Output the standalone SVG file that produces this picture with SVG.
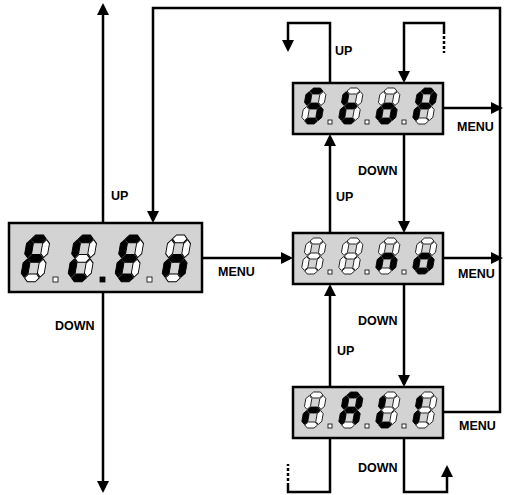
<svg xmlns="http://www.w3.org/2000/svg" xmlns:xlink="http://www.w3.org/1999/xlink" width="509" height="495" viewBox="0 0 509 495">
<style>
.box{fill:#d3d3d3;stroke:#000;stroke-width:2.5}
.on{fill:#000;stroke:#000;stroke-width:0.8}
.off{fill:#fff;stroke:#000;stroke-width:0.8}
.con{fill:none;stroke:#000;stroke-width:2.5}
.dash{fill:none;stroke:#000;stroke-width:2.5;stroke-dasharray:3 2}
.lbl{font-family:"Liberation Sans",Arial,sans-serif;font-weight:bold;font-size:12.5px;fill:#000}
</style>
<defs>
<marker id="ah" viewBox="0 0 12 12" refX="9" refY="6" markerWidth="12" markerHeight="12" markerUnits="userSpaceOnUse" orient="auto">
<path d="M0,0 L12,6 L0,12 Z" fill="#000"/>
</marker>
<path id="sa" d="M3.6,3 L6.6,0 L13.4,0 L16.4,3 L13.4,6 L6.6,6 Z"/>
<path id="sb" d="M17,3.6 L20,6.6 L20,14.4 L17,17.4 L14,14.4 L14,6.6 Z"/>
<path id="sc" d="M17,18.6 L20,21.6 L20,29.4 L17,32.4 L14,29.4 L14,21.6 Z"/>
<path id="sd" d="M3.6,33 L6.6,30 L13.4,30 L16.4,33 L13.4,36 L6.6,36 Z"/>
<path id="se" d="M3,18.6 L6,21.6 L6,29.4 L3,32.4 L0,29.4 L0,21.6 Z"/>
<path id="sf" d="M3,3.6 L6,6.6 L6,14.4 L3,17.4 L0,14.4 L0,6.6 Z"/>
<path id="sg" d="M3.6,18 L6.6,15 L13.4,15 L16.4,18 L13.4,21 L6.6,21 Z"/>
</defs>

<g id="connectors">
<path class="con" d="M103,223 V6" marker-end="url(#ah)"/>
<path class="con" d="M103,292 V490" marker-end="url(#ah)"/>
<path class="con" d="M443,412 H500 V8 H153 V220" marker-end="url(#ah)"/>
<path class="con" d="M202,258 H290" marker-end="url(#ah)"/>
<path class="con" d="M443,108 H500" marker-end="url(#ah)"/>
<path class="con" d="M443,258 H500" marker-end="url(#ah)"/>
<path class="con" d="M330,233 V137" marker-end="url(#ah)"/>
<path class="con" d="M330,387 V287" marker-end="url(#ah)"/>
<path class="con" d="M404,134 V230" marker-end="url(#ah)"/>
<path class="con" d="M404,284 V384" marker-end="url(#ah)"/>
<path class="con" d="M330,83 V23 H288 V49" marker-end="url(#ah)"/>
<path class="con" d="M444,31 V23 H404 V80" marker-end="url(#ah)"/>
<path class="dash" d="M444,31 V53"/>
<path class="con" d="M330,438 V492 H288 V486"/>
<path class="dash" d="M288,486 V464"/>
<path class="con" d="M404,438 V492 H447 V468" marker-end="url(#ah)"/>
</g>

<g id="node-fcen">
<rect class="box" x="9" y="223" width="193" height="69"/>
<g transform="translate(28,235) skewX(-10) scale(1.15,1.3)">
<use href="#sa" class="on"/><use href="#sb" class="off"/><use href="#sc" class="off"/><use href="#sd" class="off"/><use href="#se" class="on"/><use href="#sf" class="on"/><use href="#sg" class="on"/>
</g>
<g transform="translate(75,235) skewX(-10) scale(1.15,1.3)">
<use href="#sa" class="on"/><use href="#sb" class="off"/><use href="#sc" class="off"/><use href="#sd" class="on"/><use href="#se" class="on"/><use href="#sf" class="on"/><use href="#sg" class="off"/>
</g>
<g transform="translate(122,235) skewX(-10) scale(1.15,1.3)">
<use href="#sa" class="on"/><use href="#sb" class="off"/><use href="#sc" class="off"/><use href="#sd" class="on"/><use href="#se" class="on"/><use href="#sf" class="on"/><use href="#sg" class="on"/>
</g>
<g transform="translate(169,235) skewX(-10) scale(1.15,1.3)">
<use href="#sa" class="off"/><use href="#sb" class="off"/><use href="#sc" class="on"/><use href="#sd" class="off"/><use href="#se" class="on"/><use href="#sf" class="off"/><use href="#sg" class="on"/>
</g>
<rect class="off" x="53" y="277" width="5" height="5"/>
<rect class="on" x="100" y="277" width="5" height="5"/>
<rect class="off" x="147" y="277" width="5" height="5"/>
</g>

<g id="node-stop">
<rect class="box" x="293" y="83" width="150" height="51"/>
<g transform="translate(307,88) skewX(-10)">
<use href="#sa" class="on"/><use href="#sb" class="off"/><use href="#sc" class="on"/><use href="#sd" class="on"/><use href="#se" class="off"/><use href="#sf" class="on"/><use href="#sg" class="on"/>
</g>
<g transform="translate(344,88) skewX(-10)">
<use href="#sa" class="off"/><use href="#sb" class="off"/><use href="#sc" class="off"/><use href="#sd" class="on"/><use href="#se" class="on"/><use href="#sf" class="on"/><use href="#sg" class="on"/>
</g>
<g transform="translate(381,88) skewX(-10)">
<use href="#sa" class="off"/><use href="#sb" class="off"/><use href="#sc" class="on"/><use href="#sd" class="on"/><use href="#se" class="on"/><use href="#sf" class="off"/><use href="#sg" class="on"/>
</g>
<g transform="translate(418,88) skewX(-10)">
<use href="#sa" class="on"/><use href="#sb" class="on"/><use href="#sc" class="off"/><use href="#sd" class="off"/><use href="#se" class="on"/><use href="#sf" class="on"/><use href="#sg" class="on"/>
</g>
<rect class="off" x="328" y="120" width="4" height="4"/>
<rect class="off" x="365" y="120" width="4" height="4"/>
<rect class="off" x="402" y="120" width="4" height="4"/>
</g>

<g id="node-no">
<rect class="box" x="293" y="233" width="150" height="51"/>
<g transform="translate(307,238) skewX(-10)">
<use href="#sa" class="off"/><use href="#sb" class="off"/><use href="#sc" class="off"/><use href="#sd" class="off"/><use href="#se" class="off"/><use href="#sf" class="off"/><use href="#sg" class="off"/>
</g>
<g transform="translate(344,238) skewX(-10)">
<use href="#sa" class="off"/><use href="#sb" class="off"/><use href="#sc" class="off"/><use href="#sd" class="off"/><use href="#se" class="off"/><use href="#sf" class="off"/><use href="#sg" class="off"/>
</g>
<g transform="translate(381,238) skewX(-10)">
<use href="#sa" class="off"/><use href="#sb" class="off"/><use href="#sc" class="on"/><use href="#sd" class="off"/><use href="#se" class="on"/><use href="#sf" class="off"/><use href="#sg" class="on"/>
</g>
<g transform="translate(418,238) skewX(-10)">
<use href="#sa" class="off"/><use href="#sb" class="off"/><use href="#sc" class="on"/><use href="#sd" class="on"/><use href="#se" class="on"/><use href="#sf" class="off"/><use href="#sg" class="on"/>
</g>
<rect class="off" x="328" y="270" width="4" height="4"/>
<rect class="off" x="365" y="270" width="4" height="4"/>
<rect class="off" x="402" y="270" width="4" height="4"/>
</g>

<g id="node-rali">
<rect class="box" x="293" y="387" width="150" height="51"/>
<g transform="translate(307,392) skewX(-10)">
<use href="#sa" class="off"/><use href="#sb" class="off"/><use href="#sc" class="off"/><use href="#sd" class="off"/><use href="#se" class="on"/><use href="#sf" class="off"/><use href="#sg" class="on"/>
</g>
<g transform="translate(344,392) skewX(-10)">
<use href="#sa" class="on"/><use href="#sb" class="on"/><use href="#sc" class="on"/><use href="#sd" class="off"/><use href="#se" class="on"/><use href="#sf" class="on"/><use href="#sg" class="on"/>
</g>
<g transform="translate(381,392) skewX(-10)">
<use href="#sa" class="off"/><use href="#sb" class="off"/><use href="#sc" class="off"/><use href="#sd" class="on"/><use href="#se" class="on"/><use href="#sf" class="on"/><use href="#sg" class="off"/>
</g>
<g transform="translate(418,392) skewX(-10)">
<use href="#sa" class="off"/><use href="#sb" class="off"/><use href="#sc" class="off"/><use href="#sd" class="off"/><use href="#se" class="on"/><use href="#sf" class="on"/><use href="#sg" class="off"/>
</g>
<rect class="off" x="328" y="424" width="4" height="4"/>
<rect class="off" x="365" y="424" width="4" height="4"/>
<rect class="off" x="402" y="424" width="4" height="4"/>
</g>

<g id="labels">
<text class="lbl" x="111" y="200">UP</text>
<text class="lbl" x="55" y="330">DOWN</text>
<text class="lbl" x="218" y="276">MENU</text>
<text class="lbl" x="335" y="55">UP</text>
<text class="lbl" x="457" y="131">MENU</text>
<text class="lbl" x="358" y="175">DOWN</text>
<text class="lbl" x="336" y="201">UP</text>
<text class="lbl" x="458" y="278">MENU</text>
<text class="lbl" x="358" y="325">DOWN</text>
<text class="lbl" x="337" y="355">UP</text>
<text class="lbl" x="459" y="430">MENU</text>
<text class="lbl" x="358" y="472">DOWN</text>
</g>
</svg>
